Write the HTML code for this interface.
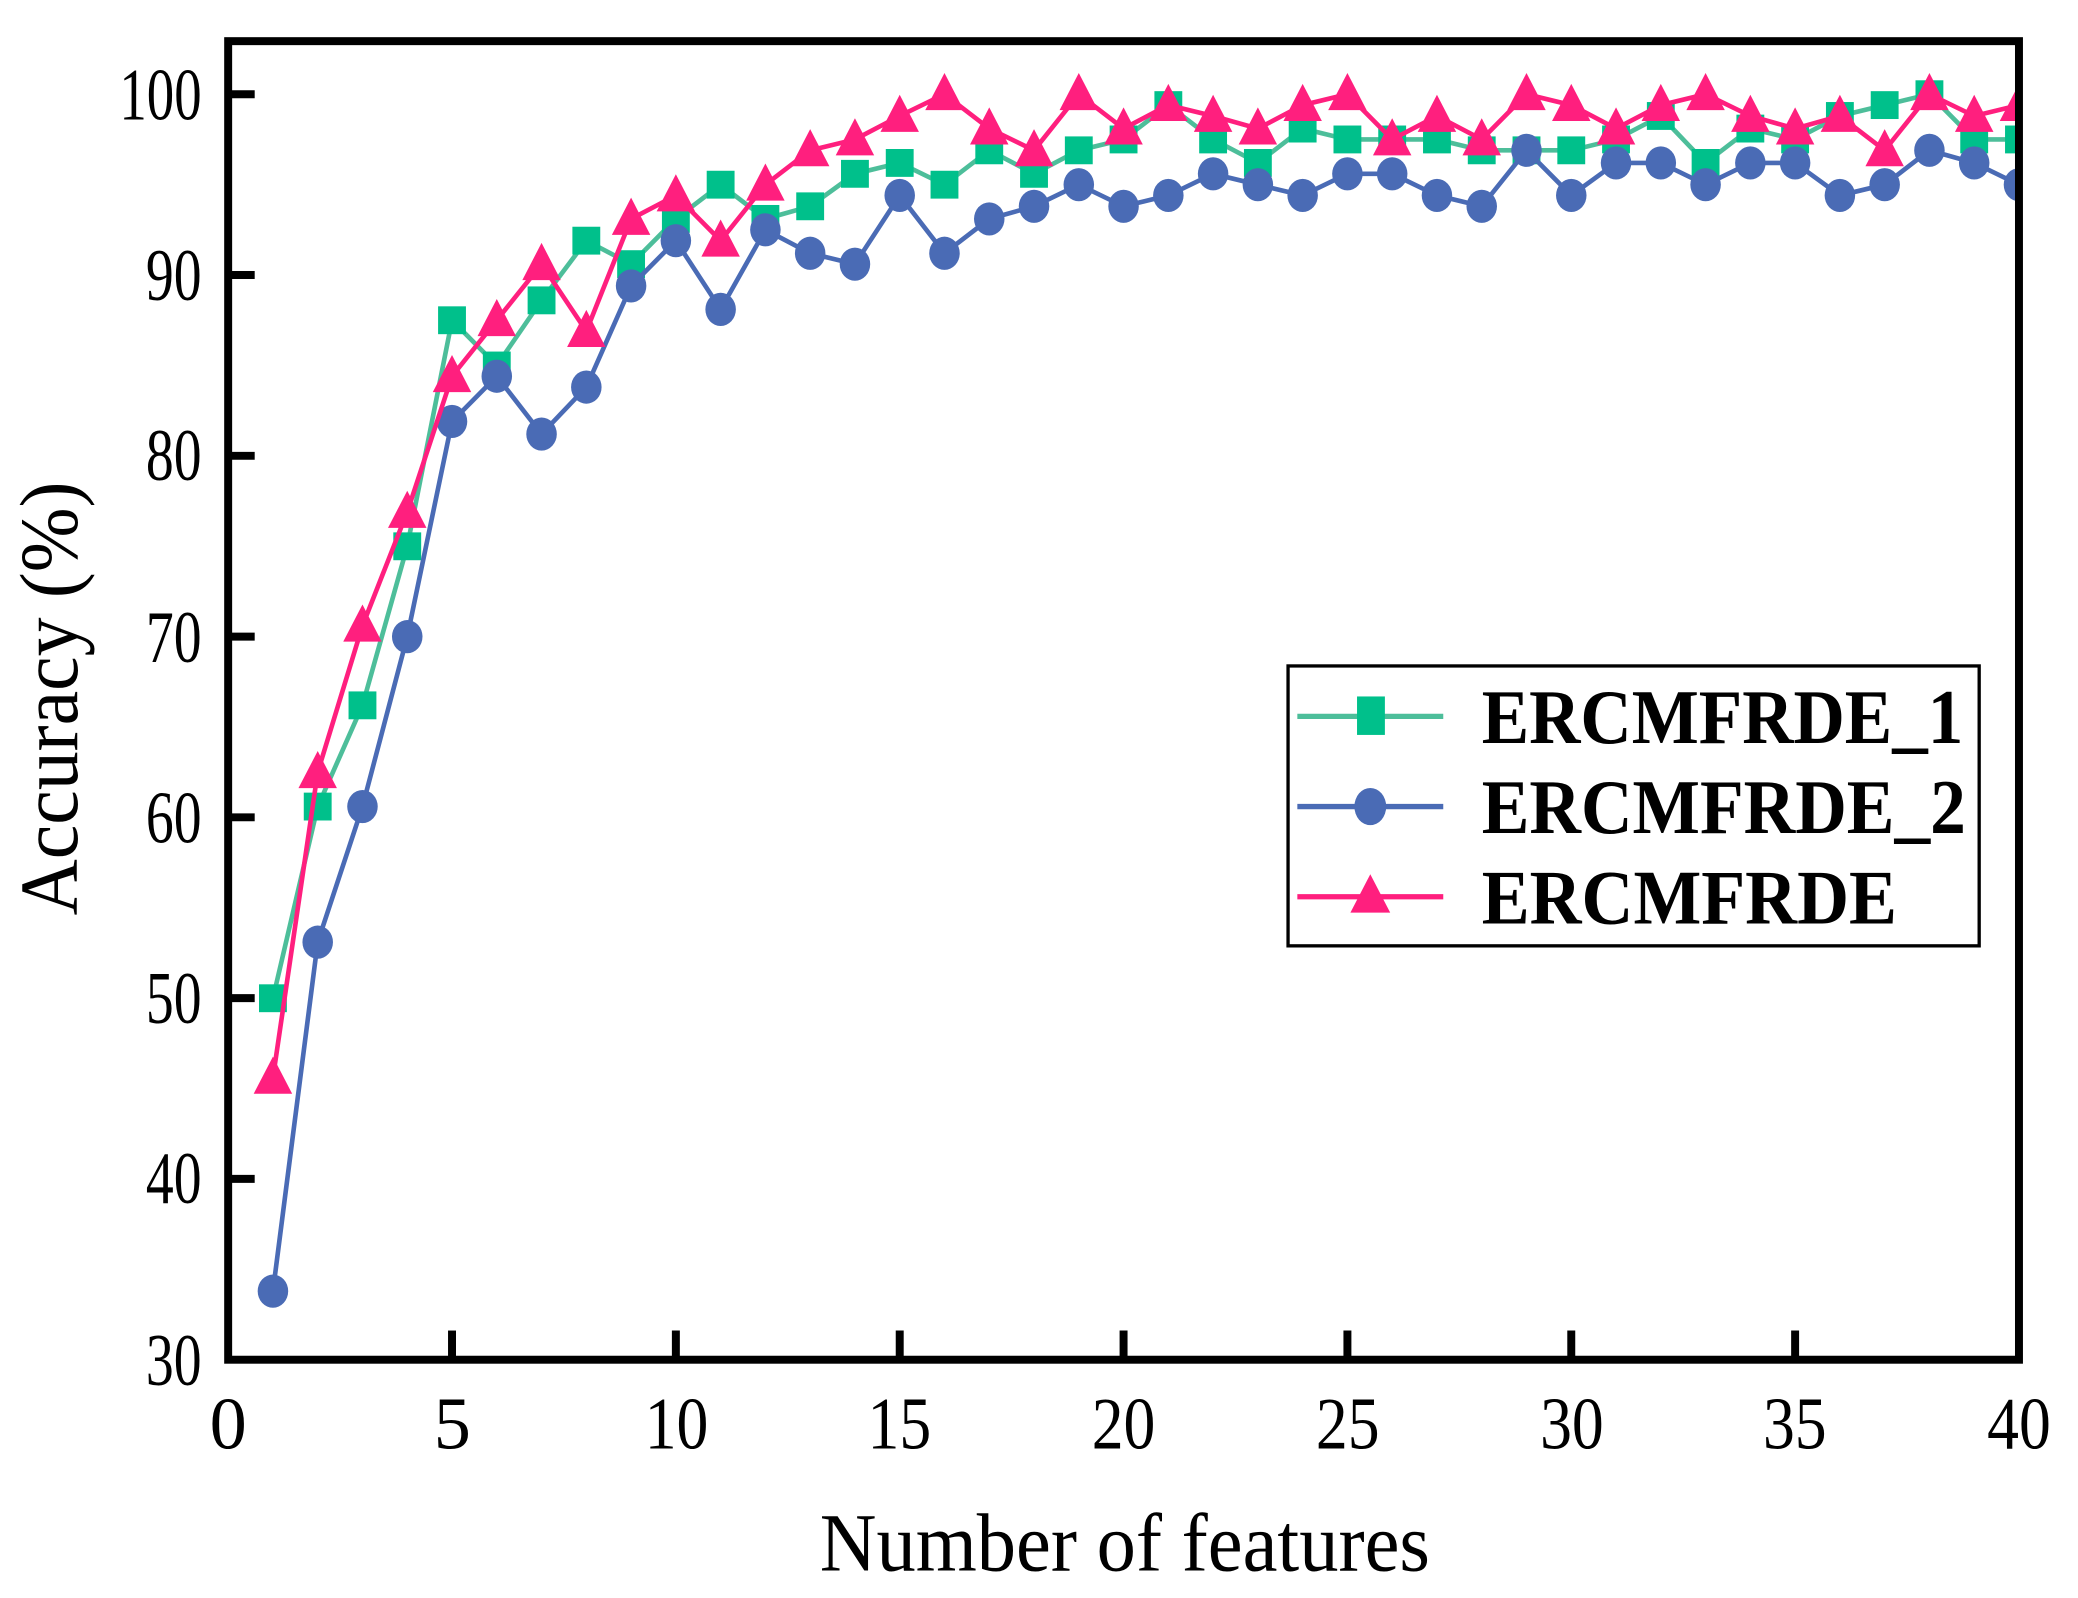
<!DOCTYPE html>
<html><head><meta charset="utf-8"><style>
html,body{margin:0;padding:0;background:#fff;}
svg{display:block;}
text{font-family:"Liberation Serif","Times New Roman",serif;}
</style></head><body>
<svg width="2078" height="1598" viewBox="0 0 1566.5 1204.6" xmlns="http://www.w3.org/2000/svg" xmlns:xlink="http://www.w3.org/1999/xlink">
<defs>
<rect id="sq" x="-10.5" y="-10.5" width="21" height="21" fill="#00C08B"/>
<ellipse id="ci" cx="0" cy="0" rx="11.5" ry="12.5" fill="#4A6BB5"/>
<polygon id="tr" points="0,-16 -14.5,12 14.5,12" fill="#FF1F7E"/>
<clipPath id="cp"><rect x="172" y="31" width="1350" height="994"/></clipPath>
</defs>
<rect width="1570" height="1210" fill="#fff"/>
<g clip-path="url(#cp)">
<polyline fill="none" stroke="#4DBE9A" stroke-width="3.5" points="205.75,752.5 239.5,608.0 273.25,531.7 307,411.8 340.75,241.4 374.5,275.5 408.25,226.4 442,181.4 475.75,199.1 509.5,165.0 543.25,139.2 577,165.0 610.75,155.5 644.5,131.0 678.25,122.8 712,139.2 745.75,113.3 779.5,131.0 813.25,113.3 847,105.1 880.75,79.2 914.5,105.1 948.25,122.8 982,96.9 1015.75,105.1 1049.5,105.1 1083.25,105.1 1117,113.3 1150.75,113.3 1184.5,113.3 1218.25,105.1 1252,87.4 1285.75,122.8 1319.5,96.9 1353.25,105.1 1387,87.4 1420.75,79.2 1454.5,71 1488.25,105.1 1522,105.1"/>
<g>
<use xlink:href="#sq" href="#sq" x="205.75" y="752.5"/><use href="#sq" xlink:href="#sq" x="239.5" y="608.0"/><use href="#sq" xlink:href="#sq" x="273.25" y="531.7"/><use href="#sq" xlink:href="#sq" x="307" y="411.8"/><use href="#sq" xlink:href="#sq" x="340.75" y="241.4"/><use href="#sq" xlink:href="#sq" x="374.5" y="275.5"/><use href="#sq" xlink:href="#sq" x="408.25" y="226.4"/><use href="#sq" xlink:href="#sq" x="442" y="181.4"/><use href="#sq" xlink:href="#sq" x="475.75" y="199.1"/><use href="#sq" xlink:href="#sq" x="509.5" y="165.0"/><use href="#sq" xlink:href="#sq" x="543.25" y="139.2"/><use href="#sq" xlink:href="#sq" x="577" y="165.0"/><use href="#sq" xlink:href="#sq" x="610.75" y="155.5"/><use href="#sq" xlink:href="#sq" x="644.5" y="131.0"/><use href="#sq" xlink:href="#sq" x="678.25" y="122.8"/><use href="#sq" xlink:href="#sq" x="712" y="139.2"/><use href="#sq" xlink:href="#sq" x="745.75" y="113.3"/><use href="#sq" xlink:href="#sq" x="779.5" y="131.0"/><use href="#sq" xlink:href="#sq" x="813.25" y="113.3"/><use href="#sq" xlink:href="#sq" x="847" y="105.1"/><use href="#sq" xlink:href="#sq" x="880.75" y="79.2"/><use href="#sq" xlink:href="#sq" x="914.5" y="105.1"/><use href="#sq" xlink:href="#sq" x="948.25" y="122.8"/><use href="#sq" xlink:href="#sq" x="982" y="96.9"/><use href="#sq" xlink:href="#sq" x="1015.75" y="105.1"/><use href="#sq" xlink:href="#sq" x="1049.5" y="105.1"/><use href="#sq" xlink:href="#sq" x="1083.25" y="105.1"/><use href="#sq" xlink:href="#sq" x="1117" y="113.3"/><use href="#sq" xlink:href="#sq" x="1150.75" y="113.3"/><use href="#sq" xlink:href="#sq" x="1184.5" y="113.3"/><use href="#sq" xlink:href="#sq" x="1218.25" y="105.1"/><use href="#sq" xlink:href="#sq" x="1252" y="87.4"/><use href="#sq" xlink:href="#sq" x="1285.75" y="122.8"/><use href="#sq" xlink:href="#sq" x="1319.5" y="96.9"/><use href="#sq" xlink:href="#sq" x="1353.25" y="105.1"/><use href="#sq" xlink:href="#sq" x="1387" y="87.4"/><use href="#sq" xlink:href="#sq" x="1420.75" y="79.2"/><use href="#sq" xlink:href="#sq" x="1454.5" y="71"/><use href="#sq" xlink:href="#sq" x="1488.25" y="105.1"/><use href="#sq" xlink:href="#sq" x="1522" y="105.1"/>
</g>
<polyline fill="none" stroke="#4A6BB5" stroke-width="3.5" points="205.75,973.3 239.5,710.2 273.25,608.0 307,479.9 340.75,317.7 374.5,283.6 408.25,327.2 442,291.8 475.75,215.5 509.5,181.4 543.25,233.2 577,173.2 610.75,190.9 644.5,199.1 678.25,147.3 712,190.9 745.75,165.0 779.5,155.5 813.25,139.2 847,155.5 880.75,147.3 914.5,131.0 948.25,139.2 982,147.3 1015.75,131.0 1049.5,131.0 1083.25,147.3 1117,155.5 1150.75,113.3 1184.5,147.3 1218.25,122.8 1252,122.8 1285.75,139.2 1319.5,122.8 1353.25,122.8 1387,147.3 1420.75,139.2 1454.5,113.3 1488.25,122.8 1522,139.2"/>
<g>
<use href="#ci" xlink:href="#ci" x="205.75" y="973.3"/><use href="#ci" xlink:href="#ci" x="239.5" y="710.2"/><use href="#ci" xlink:href="#ci" x="273.25" y="608.0"/><use href="#ci" xlink:href="#ci" x="307" y="479.9"/><use href="#ci" xlink:href="#ci" x="340.75" y="317.7"/><use href="#ci" xlink:href="#ci" x="374.5" y="283.6"/><use href="#ci" xlink:href="#ci" x="408.25" y="327.2"/><use href="#ci" xlink:href="#ci" x="442" y="291.8"/><use href="#ci" xlink:href="#ci" x="475.75" y="215.5"/><use href="#ci" xlink:href="#ci" x="509.5" y="181.4"/><use href="#ci" xlink:href="#ci" x="543.25" y="233.2"/><use href="#ci" xlink:href="#ci" x="577" y="173.2"/><use href="#ci" xlink:href="#ci" x="610.75" y="190.9"/><use href="#ci" xlink:href="#ci" x="644.5" y="199.1"/><use href="#ci" xlink:href="#ci" x="678.25" y="147.3"/><use href="#ci" xlink:href="#ci" x="712" y="190.9"/><use href="#ci" xlink:href="#ci" x="745.75" y="165.0"/><use href="#ci" xlink:href="#ci" x="779.5" y="155.5"/><use href="#ci" xlink:href="#ci" x="813.25" y="139.2"/><use href="#ci" xlink:href="#ci" x="847" y="155.5"/><use href="#ci" xlink:href="#ci" x="880.75" y="147.3"/><use href="#ci" xlink:href="#ci" x="914.5" y="131.0"/><use href="#ci" xlink:href="#ci" x="948.25" y="139.2"/><use href="#ci" xlink:href="#ci" x="982" y="147.3"/><use href="#ci" xlink:href="#ci" x="1015.75" y="131.0"/><use href="#ci" xlink:href="#ci" x="1049.5" y="131.0"/><use href="#ci" xlink:href="#ci" x="1083.25" y="147.3"/><use href="#ci" xlink:href="#ci" x="1117" y="155.5"/><use href="#ci" xlink:href="#ci" x="1150.75" y="113.3"/><use href="#ci" xlink:href="#ci" x="1184.5" y="147.3"/><use href="#ci" xlink:href="#ci" x="1218.25" y="122.8"/><use href="#ci" xlink:href="#ci" x="1252" y="122.8"/><use href="#ci" xlink:href="#ci" x="1285.75" y="139.2"/><use href="#ci" xlink:href="#ci" x="1319.5" y="122.8"/><use href="#ci" xlink:href="#ci" x="1353.25" y="122.8"/><use href="#ci" xlink:href="#ci" x="1387" y="147.3"/><use href="#ci" xlink:href="#ci" x="1420.75" y="139.2"/><use href="#ci" xlink:href="#ci" x="1454.5" y="113.3"/><use href="#ci" xlink:href="#ci" x="1488.25" y="122.8"/><use href="#ci" xlink:href="#ci" x="1522" y="139.2"/>
</g>
<polyline fill="none" stroke="#FF1F7E" stroke-width="3.5" points="205.75,812.5 239.5,582.1 273.25,471.7 307,385.9 340.75,283.6 374.5,241.4 408.25,199.1 442,249.6 475.75,165.0 509.5,147.3 543.25,181.4 577,139.2 610.75,113.3 644.5,105.1 678.25,87.4 712,71 745.75,96.9 779.5,113.3 813.25,71 847,96.9 880.75,79.2 914.5,87.4 948.25,96.9 982,79.2 1015.75,71 1049.5,105.1 1083.25,87.4 1117,105.1 1150.75,71 1184.5,79.2 1218.25,96.9 1252,79.2 1285.75,71 1319.5,87.4 1353.25,96.9 1387,87.4 1420.75,113.3 1454.5,71 1488.25,87.4 1522,79.2"/>
<g>
<use href="#tr" xlink:href="#tr" x="205.75" y="812.5"/><use href="#tr" xlink:href="#tr" x="239.5" y="582.1"/><use href="#tr" xlink:href="#tr" x="273.25" y="471.7"/><use href="#tr" xlink:href="#tr" x="307" y="385.9"/><use href="#tr" xlink:href="#tr" x="340.75" y="283.6"/><use href="#tr" xlink:href="#tr" x="374.5" y="241.4"/><use href="#tr" xlink:href="#tr" x="408.25" y="199.1"/><use href="#tr" xlink:href="#tr" x="442" y="249.6"/><use href="#tr" xlink:href="#tr" x="475.75" y="165.0"/><use href="#tr" xlink:href="#tr" x="509.5" y="147.3"/><use href="#tr" xlink:href="#tr" x="543.25" y="181.4"/><use href="#tr" xlink:href="#tr" x="577" y="139.2"/><use href="#tr" xlink:href="#tr" x="610.75" y="113.3"/><use href="#tr" xlink:href="#tr" x="644.5" y="105.1"/><use href="#tr" xlink:href="#tr" x="678.25" y="87.4"/><use href="#tr" xlink:href="#tr" x="712" y="71"/><use href="#tr" xlink:href="#tr" x="745.75" y="96.9"/><use href="#tr" xlink:href="#tr" x="779.5" y="113.3"/><use href="#tr" xlink:href="#tr" x="813.25" y="71"/><use href="#tr" xlink:href="#tr" x="847" y="96.9"/><use href="#tr" xlink:href="#tr" x="880.75" y="79.2"/><use href="#tr" xlink:href="#tr" x="914.5" y="87.4"/><use href="#tr" xlink:href="#tr" x="948.25" y="96.9"/><use href="#tr" xlink:href="#tr" x="982" y="79.2"/><use href="#tr" xlink:href="#tr" x="1015.75" y="71"/><use href="#tr" xlink:href="#tr" x="1049.5" y="105.1"/><use href="#tr" xlink:href="#tr" x="1083.25" y="87.4"/><use href="#tr" xlink:href="#tr" x="1117" y="105.1"/><use href="#tr" xlink:href="#tr" x="1150.75" y="71"/><use href="#tr" xlink:href="#tr" x="1184.5" y="79.2"/><use href="#tr" xlink:href="#tr" x="1218.25" y="96.9"/><use href="#tr" xlink:href="#tr" x="1252" y="79.2"/><use href="#tr" xlink:href="#tr" x="1285.75" y="71"/><use href="#tr" xlink:href="#tr" x="1319.5" y="87.4"/><use href="#tr" xlink:href="#tr" x="1353.25" y="96.9"/><use href="#tr" xlink:href="#tr" x="1387" y="87.4"/><use href="#tr" xlink:href="#tr" x="1420.75" y="113.3"/><use href="#tr" xlink:href="#tr" x="1454.5" y="71"/><use href="#tr" xlink:href="#tr" x="1488.25" y="87.4"/><use href="#tr" xlink:href="#tr" x="1522" y="79.2"/>
</g>
</g>
<rect x="172" y="31" width="1350" height="994" fill="none" stroke="#000" stroke-width="6"/>
<g stroke="#000" stroke-width="6">
<line x1="172" y1="71" x2="192" y2="71"/><line x1="172" y1="207.3" x2="192" y2="207.3"/>
<line x1="172" y1="343.6" x2="192" y2="343.6"/><line x1="172" y1="479.9" x2="192" y2="479.9"/>
<line x1="172" y1="616.1" x2="192" y2="616.1"/><line x1="172" y1="752.4" x2="192" y2="752.4"/>
<line x1="172" y1="888.7" x2="192" y2="888.7"/>
<line x1="340.75" y1="1025" x2="340.75" y2="1003"/><line x1="509.5" y1="1025" x2="509.5" y2="1003"/>
<line x1="678.25" y1="1025" x2="678.25" y2="1003"/><line x1="847" y1="1025" x2="847" y2="1003"/>
<line x1="1015.75" y1="1025" x2="1015.75" y2="1003"/><line x1="1184.5" y1="1025" x2="1184.5" y2="1003"/>
<line x1="1353.25" y1="1025" x2="1353.25" y2="1003"/>
</g>
<g font-size="56" text-anchor="end">
<text x="152" y="90" textLength="62" lengthAdjust="spacingAndGlyphs">100</text>
<text x="152" y="226" textLength="42" lengthAdjust="spacingAndGlyphs">90</text>
<text x="152" y="362" textLength="42" lengthAdjust="spacingAndGlyphs">80</text>
<text x="152" y="499" textLength="42" lengthAdjust="spacingAndGlyphs">70</text>
<text x="152" y="635" textLength="42" lengthAdjust="spacingAndGlyphs">60</text>
<text x="152" y="771" textLength="42" lengthAdjust="spacingAndGlyphs">50</text>
<text x="152" y="907" textLength="42" lengthAdjust="spacingAndGlyphs">40</text>
<text x="152" y="1044" textLength="42" lengthAdjust="spacingAndGlyphs">30</text>
</g>
<g font-size="56" text-anchor="middle">
<text x="172" y="1092">0</text>
<text x="341" y="1092">5</text>
<text x="510" y="1092" textLength="48" lengthAdjust="spacingAndGlyphs">10</text>
<text x="678" y="1092" textLength="48" lengthAdjust="spacingAndGlyphs">15</text>
<text x="847" y="1092" textLength="48" lengthAdjust="spacingAndGlyphs">20</text>
<text x="1016" y="1092" textLength="48" lengthAdjust="spacingAndGlyphs">25</text>
<text x="1185" y="1092" textLength="48" lengthAdjust="spacingAndGlyphs">30</text>
<text x="1353" y="1092" textLength="48" lengthAdjust="spacingAndGlyphs">35</text>
<text x="1522" y="1092" textLength="48" lengthAdjust="spacingAndGlyphs">40</text>
</g>
<text x="618" y="1184" font-size="62" textLength="460" lengthAdjust="spacingAndGlyphs">Number of features</text>
<text transform="translate(58,690) rotate(-90)" font-size="62" textLength="327" lengthAdjust="spacingAndGlyphs">Accuracy (%)</text>
<rect x="971" y="502" width="521" height="211" fill="#fff" stroke="#000" stroke-width="2.5"/>
<g stroke-width="4">
<line x1="978" y1="540" x2="1088" y2="540" stroke="#4DBE9A"/>
<rect x="1023" y="525" width="21" height="29" fill="#00C08B"/>
<line x1="978" y1="608" x2="1088" y2="608" stroke="#4A6BB5"/>
<ellipse cx="1033" cy="608" rx="12" ry="14" fill="#4A6BB5"/>
<line x1="978" y1="676" x2="1088" y2="676" stroke="#FF1F7E"/>
<polygon points="1033,659 1018,688 1048,688" fill="#FF1F7E"/>
</g>
<g font-size="58" font-weight="bold">
<text x="1117" y="560" textLength="363" lengthAdjust="spacingAndGlyphs">ERCMFRDE_1</text>
<text x="1117" y="628" textLength="365" lengthAdjust="spacingAndGlyphs">ERCMFRDE_2</text>
<text x="1117" y="696" textLength="313" lengthAdjust="spacingAndGlyphs">ERCMFRDE</text>
</g>
</svg>
</body></html>
